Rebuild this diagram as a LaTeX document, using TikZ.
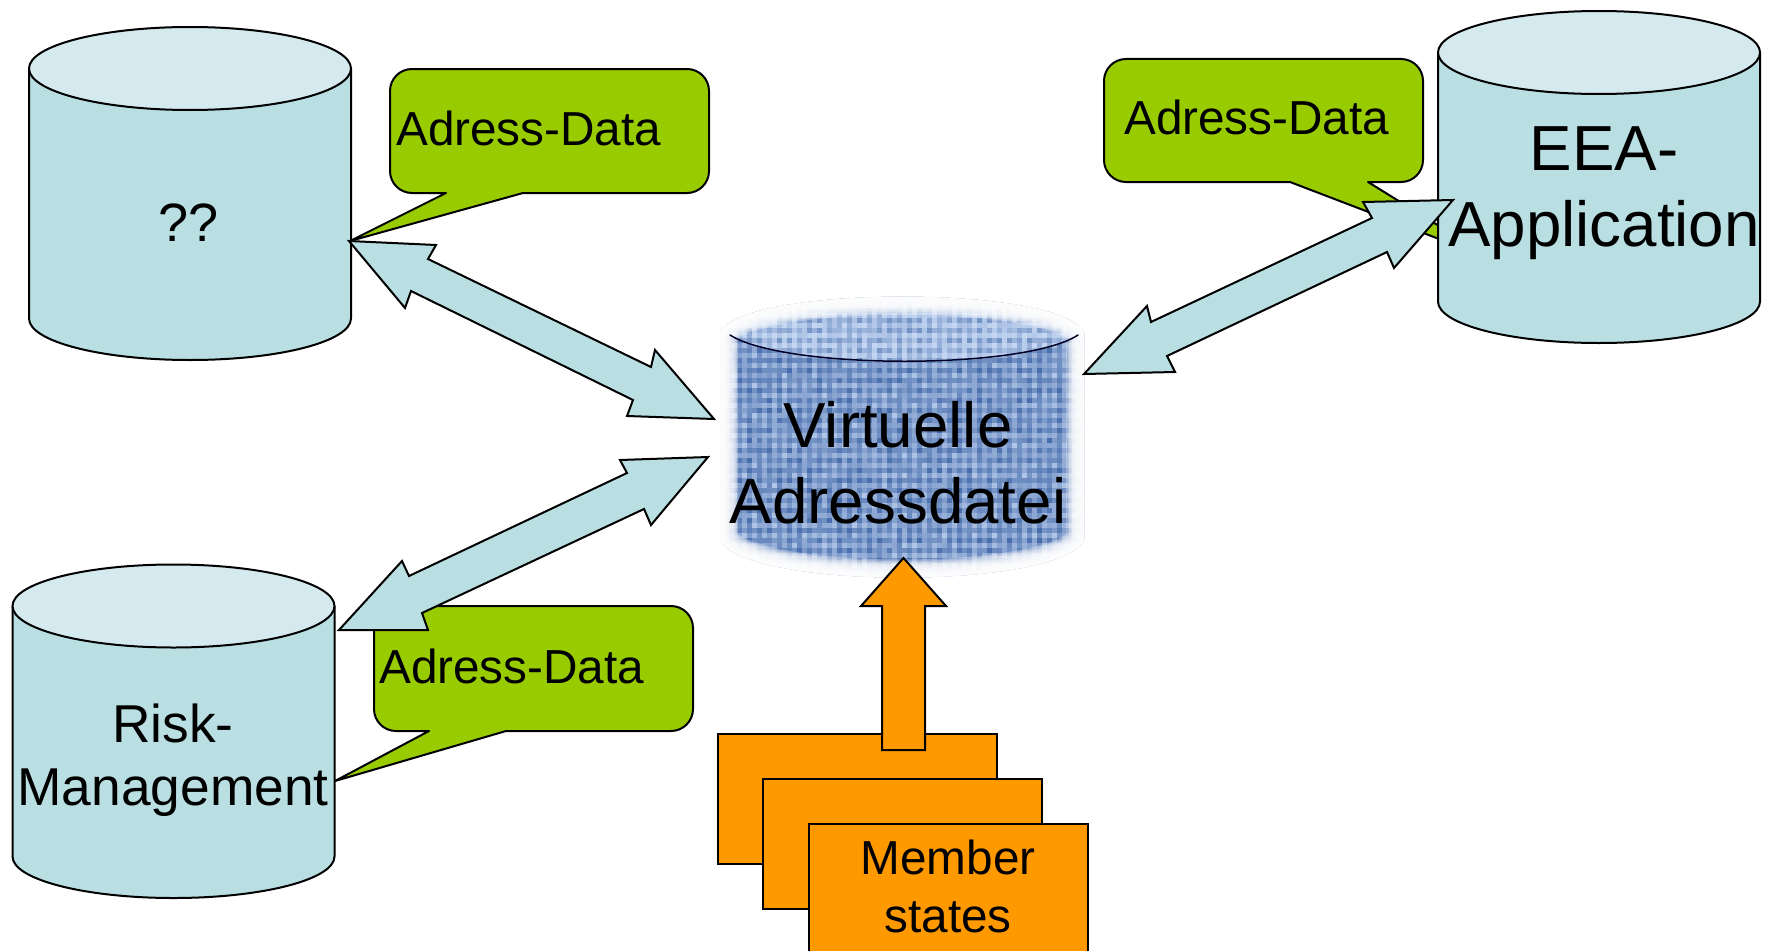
\documentclass[tikz,border=0pt]{standalone}
\usepackage{fontspec}
\setmainfont{Liberation Sans}
\definecolor{cylbody}{HTML}{B9DFE3}
\definecolor{cyltop}{HTML}{D5EAEE}
\definecolor{callgreen}{HTML}{99CC00}
\definecolor{memberor}{HTML}{FF9900}
\definecolor{wvdark}{HTML}{3D64A6}
\definecolor{wvmid}{HTML}{6F93CE}
\definecolor{wvlight}{HTML}{C4D6F2}
\newcommand{\dbcyl}[3]{%
  \draw[cylshape,fill=cylbody] (#1-161,#2) -- (#1-161,#3)
    arc[start angle=180,end angle=360,x radius=161pt,y radius=41.5pt] -- (#1+161,#2) -- cycle;
  \draw[cylshape,fill=cyltop] (#1,#2) ellipse[x radius=161pt,y radius=41.5pt];
}
\newcommand{\weave}[5]{%
  \foreach \i in {0,...,72}{%
    \foreach \j in {#1,...,#2}{%
      \pgfmathsetmacro{\wv}{mod(\i,2)+mod(\j,2)}%
      \pgfmathsetmacro{\rv}{int(min(100,max(0,(\wv==0?#3:(\wv==1?#4:#5))+rnd*30-15)))}%
      \fill[wvlight!\rv!wvdark] (722+\i*5,298+\j*5) rectangle +(5.5pt,5.5pt);
    }%
  }%
}
\newcommand{\vshape}{(720,332) .. controls (745,285) and (1060,285) .. (1084,332) -- (1084,540) .. controls (1060,590) and (745,590) .. (720,540) -- cycle}
\tikzset{
  cylshape/.style={draw=black,line width=2pt,line join=round},
  callshape/.style={draw=black,fill=callgreen,line width=2pt,line join=round},
  dblarrow/.style={draw=black,fill=cylbody,line width=2pt,line join=miter},
  memberbox/.style={draw=black,fill=memberor,line width=2pt},
  calltext/.style={font=\fontsize{47.7pt}{57pt}\selectfont,anchor=base west,inner sep=0pt},
  bigtext/.style={font=\fontsize{63.7pt}{76pt}\selectfont,align=center,inner sep=0pt},
  risktext/.style={font=\fontsize{53.3pt}{63pt}\selectfont,align=center,inner sep=0pt},
  membertext/.style={font=\fontsize{47.7pt}{58pt}\selectfont,align=center,inner sep=0pt},
}
\begin{document}
\begin{tikzpicture}[x=1pt,y=-1pt]
\useasboundingbox (0,0) rectangle (1771,950);
\clip (0,0) rectangle (1771,950);
\fill[white] (0,0) rectangle (1771,950);

% callouts (behind the cylinders)
\draw[callshape] (446,193) -- (350,241) -- (523,193) [rounded corners=22pt] -- (709,193) -- (709,69) -- (390,69) -- (390,193) [sharp corners] -- cycle;
\draw[callshape] (1290,182) -- (1494,260) -- (1368,182) [rounded corners=22pt] -- (1423,182) -- (1423,59) -- (1104,59) -- (1104,182) [sharp corners] -- cycle;
\draw[callshape] (429,731) -- (335,781) -- (506,731) [rounded corners=22pt] -- (693,731) -- (693,606) -- (374,606) -- (374,731) [sharp corners] -- cycle;

% cylinders
\dbcyl{190}{68.5}{318.5}
\dbcyl{1599}{52.5}{301.5}
\dbcyl{173.5}{606}{856.5}

% virtual file
\begin{scope}
  \clip \vshape;
  \pgfmathsetseed{11}
  \fill[wvmid] (715,290) rectangle (1090,580);
  \weave{0}{56}{72}{48}{24}
  \begin{scope}
    \clip (700,280) -- (725,333) .. controls (780,372) and (1030,372) .. (1082,333) -- (1100,280) -- cycle;
    \weave{0}{13}{100}{80}{55}
  \end{scope}
  \foreach \w in {3,6,...,36}{
    \draw[white,opacity=0.3,line width=\w pt] \vshape;
  }
\end{scope}
\draw[black!85!blue,line width=1.5pt,line cap=round] (730,335) .. controls (785,370) and (1025,370) .. (1078,335);

% member states
\node[memberbox,minimum width=279pt,minimum height=130pt,anchor=north west,inner sep=0pt] (m1) at (717,733) {};
\node[memberbox,minimum width=279pt,minimum height=130pt,anchor=north west,inner sep=0pt] (m2) at (762,778) {};
\node[memberbox,minimum width=279pt,minimum height=140pt,anchor=north west,inner sep=0pt] (m3) at (808,823) {};

% arrows
\draw[memberbox,line join=miter] (903.5,558) -- (946,606) -- (925,606) -- (925,750) -- (882,750) -- (882,606) -- (861,606) -- cycle;
\draw[dblarrow] (349,241) -- (436,245) -- (428,259) -- (651,367) -- (655,350) -- (714,419) -- (627,416) -- (633,400) -- (411,291) -- (405,308) -- cycle;
\draw[dblarrow] (1084,374) -- (1147,306) -- (1151,322) -- (1372,218) -- (1363,202) -- (1453,200) -- (1394,268) -- (1387,252) -- (1167,356) -- (1175,372) -- cycle;
\draw[dblarrow] (339,630) -- (402,561) -- (409,576) -- (627,473) -- (620,460) -- (708,457) -- (651,525) -- (644,509) -- (422,613) -- (428,630) -- cycle;

% labels
\node[font=\fontsize{54pt}{64pt}\selectfont,inner sep=0pt] (q) at (189,223) {??};
\node[calltext] (c1) at (396,145) {Adress-Data};
\node[calltext] (c2) at (1124,134) {Adress-Data};
\node[calltext] (c3) at (379,683) {Adress-Data};
\node[bigtext] (v) at (898,463) {Virtuelle\\Adressdatei};
\node[bigtext] (e) at (1604,193) {EEA-\\Application};
\node[risktext] (r) at (173,760) {Risk-\\Management};
\node[membertext] (ms) at (948,886) {Member\\states};
\end{tikzpicture}
\end{document}
